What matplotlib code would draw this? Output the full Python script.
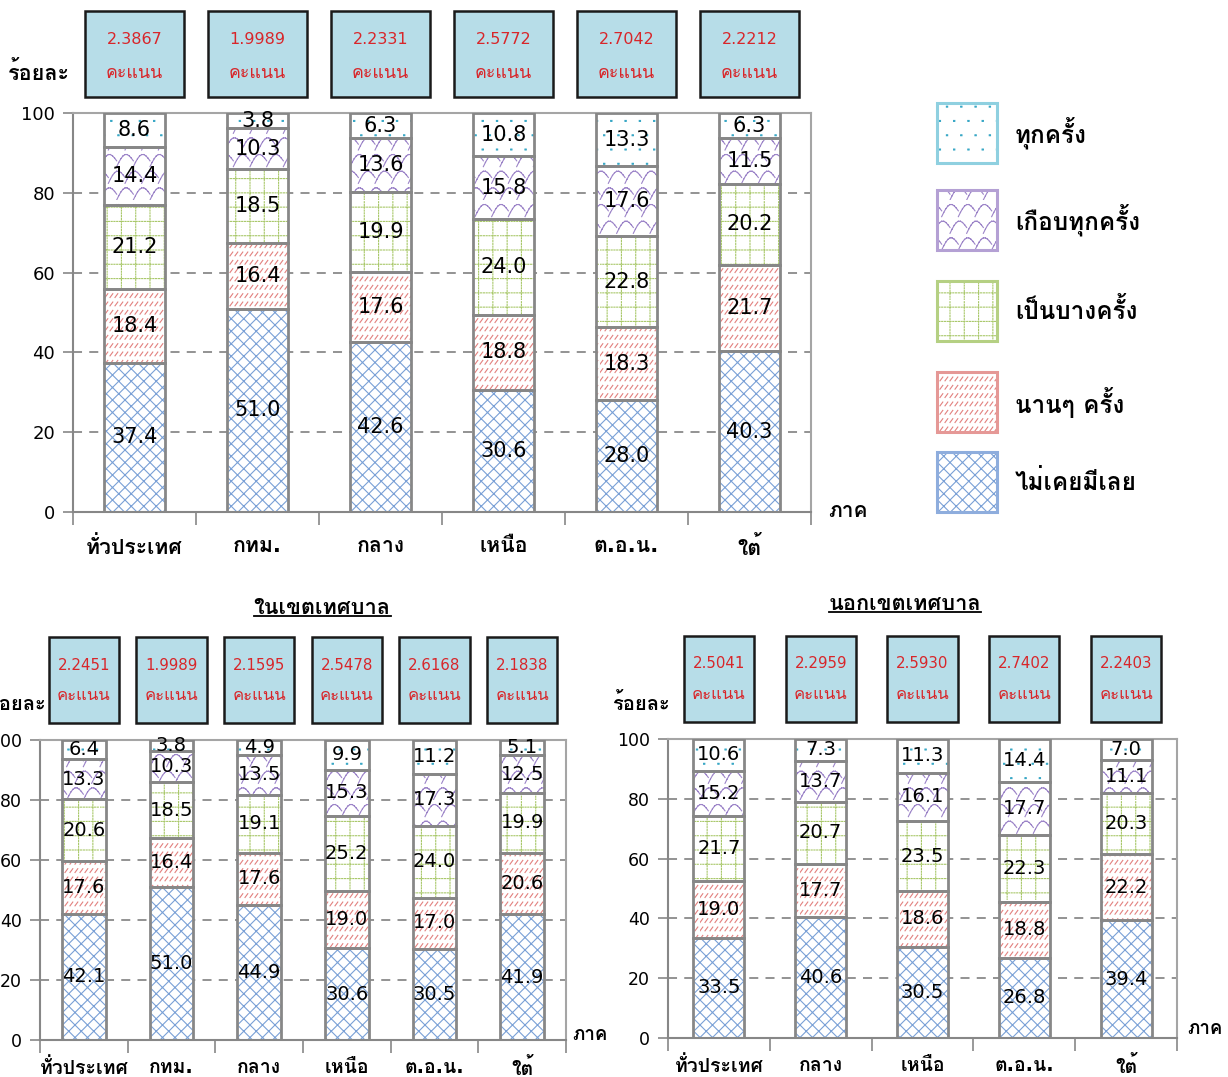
import matplotlib
matplotlib.use("Agg")
import warnings
warnings.filterwarnings("ignore")
import matplotlib.pyplot as plt
from matplotlib.patches import Rectangle
from matplotlib import font_manager
from matplotlib.ft2font import FT2Font
from matplotlib import hatch as mhatch
from matplotlib.path import Path
import matplotlib.transforms as mtrans
import numpy as np

# ---------------- data ----------------
series_names = ["ไม่เคยมีเลย", "นานๆ ครั้ง", "เป็นบางครั้ง", "เกือบทุกครั้ง", "ทุกครั้ง"]

top_categories = ["ทั่วประเทศ", "กทม.", "กลาง", "เหนือ", "ต.อ.น.", "ใต้"]
top_never = [37.4, 51.0, 42.6, 30.6, 28.0, 40.3]
top_seldom = [18.4, 16.4, 17.6, 18.8, 18.3, 21.7]
top_sometimes = [21.2, 18.5, 19.9, 24.0, 22.8, 20.2]
top_almost = [14.4, 10.3, 13.6, 15.8, 17.6, 11.5]
top_every = [8.6, 3.8, 6.3, 10.8, 13.3, 6.3]
top_scores = ["2.3867", "1.9989", "2.2331", "2.5772", "2.7042", "2.2212"]

in_categories = ["ทั่วประเทศ", "กทม.", "กลาง", "เหนือ", "ต.อ.น.", "ใต้"]
in_never = [42.1, 51.0, 44.9, 30.6, 30.5, 41.9]
in_seldom = [17.6, 16.4, 17.6, 19.0, 17.0, 20.6]
in_sometimes = [20.6, 18.5, 19.1, 25.2, 24.0, 19.9]
in_almost = [13.3, 10.3, 13.5, 15.3, 17.3, 12.5]
in_every = [6.4, 3.8, 4.9, 9.9, 11.2, 5.1]
in_scores = ["2.2451", "1.9989", "2.1595", "2.5478", "2.6168", "2.1838"]

out_categories = ["ทั่วประเทศ", "กลาง", "เหนือ", "ต.อ.น.", "ใต้"]
out_never = [33.5, 40.6, 30.5, 26.8, 39.4]
out_seldom = [19.0, 17.7, 18.6, 18.8, 22.2]
out_sometimes = [21.7, 20.7, 23.5, 22.3, 20.3]
out_almost = [15.2, 13.7, 16.1, 17.7, 11.1]
out_every = [10.6, 7.3, 11.3, 14.4, 7.0]
out_scores = ["2.5041", "2.2959", "2.5930", "2.7402", "2.2403"]

yticks = [0, 20, 40, 60, 80, 100]

# ---------------- fonts ----------------
thai_font = None
preferred = ["Tahoma", "Loma", "Garuda", "Noto Sans Thai", "Noto Sans Thai UI", "Leelawadee UI"]
found = []
for f in font_manager.fontManager.ttflist:
    try:
        ft = FT2Font(f.fname)
        if ft.get_char_index(ord("ก")):
            found.append(f.name)
    except Exception:
        pass
for p in preferred:
    if p in found:
        thai_font = p
        break
if thai_font is None and found:
    thai_font = found[0]
families = ["DejaVu Sans"] + ([thai_font] if thai_font else [])
plt.rcParams["font.family"] = families
plt.rcParams["hatch.linewidth"] = 0.8


# ---------------- custom hatch patterns (Excel-like) ----------------
class _SegHatch:
    char = "?"

    def __init__(self, hatch, density):
        self.k = hatch.count(self.char)
        self.segs = self.make() if self.k else []
        self.num_vertices = 2 * len(self.segs)

    def set_vertices_and_codes(self, vertices, codes):
        arr = np.array(self.segs, dtype=float).reshape(-1, 2)
        vertices[:] = arr
        codes[0::2] = Path.MOVETO
        codes[1::2] = Path.LINETO


class CrossHatch(_SegHatch):          # diamonds
    char = "x"

    def make(self):
        n = 8
        segs = []
        for i in range(-n, n + 1):
            x0 = i / n
            segs.append(((x0, 0), (x0 + 1, 1)))
            segs.append(((x0, 1), (x0 + 1, 0)))
        return segs


class DashHatch(_SegHatch):           # rows of short slashes
    char = "/"

    def make(self):
        rows, m = 12, 20
        dx, dy = 0.028, 0.038
        segs = []
        for r in range(-1, rows):
            y = (r + 0.3) / rows
            for c in range(-1, m):
                x = c / m
                segs.append(((x, y), (x + dx, y + dy)))
        return segs


class DotGridHatch(_SegHatch):        # dotted grid
    char = "+"

    def make(self):
        n = 7
        step, ln = 1 / 36, 0.011
        segs = []
        for i in range(n):
            p = (i + 0.5) / n
            for j in range(36):
                q = j * step
                segs.append(((p, q), (p, q + ln)))
                segs.append(((q, p), (q + ln, p)))
        return segs


class DotHatch(_SegHatch):            # sparse staggered dots
    char = "."

    def make(self):
        n = 7
        d = 0.012
        segs = []
        for r in range(n):
            off = 0.5 / n if r % 2 else 0.0
            y = (r + 0.5) / n
            for c in range(n):
                x = (c + 0.25) / n + off
                segs.append(((x, y), (x + d, y)))
                segs.append(((x, y + d * 0.8), (x + d, y + d * 0.8)))
        return segs


class ScaleHatch(_SegHatch):          # fish-scale waves
    char = "o"

    def make(self):
        n = 6
        w = 1 / n
        h = 0.55 / n
        t = np.linspace(0, 1, 9)
        segs = []
        for r in range(-1, n):
            y0 = r / n
            off = 0.5 * w if r % 2 else 0.0
            for c in range(-1, n + 1):
                x0 = c * w + off
                xs = x0 + w * t
                ys = y0 + h * np.sin(np.pi * t) + 0.35 * w * t
                for a in range(len(t) - 1):
                    segs.append(((xs[a], ys[a]), (xs[a + 1], ys[a + 1])))
        return segs


mhatch._hatch_types = [CrossHatch, DashHatch, DotGridHatch, DotHatch, ScaleHatch]

# ---------------- styles ----------------
hatch_colors = ["#7aa0d6", "#e2807e", "#a9c86a", "#9c84c8", "#3aa8c6"]
legend_edge = ["#8eaddd", "#e59896", "#b5d083", "#b4a0d4", "#8fd0e0"]
hatches = ["x", "/", "+", "o", "."]
edge_gray = "#878787"
box_fill = "#b7dde8"
red = "#d8262a"

W, H = 1228, 1077
fig = plt.figure(figsize=(W / 100, H / 100), dpi=100)


def fx(px):
    return px / W


def fy(py):
    return 1 - py / H


def draw_chart(ax_rect, cats, stacks, scores, fs_tick, fs_lab, fs_cat, cat_pad, box_w,
               box_y0, box_y1, fs_box, fs_box_th, score_y, pts_y):
    ax = fig.add_axes(ax_rect)
    n = len(cats)
    x = np.arange(n)
    bottom = np.zeros(n)
    for vals, hc, h in zip(stacks, hatch_colors, hatches):
        vals = np.array(vals)
        ax.bar(x, vals, 0.5, bottom=bottom, color="white", edgecolor=hc, hatch=h,
               linewidth=0, zorder=2)
        bars = ax.bar(x, vals, 0.5, bottom=bottom, fill=False, edgecolor=edge_gray,
                      linewidth=2.0, zorder=3)
        ax.bar_label(bars, labels=[f"{v:.1f}" for v in vals], label_type="center",
                     fontsize=fs_lab, color="black", zorder=4)
        bottom += vals
    ax.set_xlim(-0.5, n - 0.5)
    ax.set_ylim(0, 100)
    ax.set_yticks(yticks)
    ax.tick_params(axis="y", labelsize=fs_tick, length=7, width=1.2, color=edge_gray,
                   direction="out", pad=6)
    ax.set_xticks(x)
    ax.set_xticklabels(cats, fontsize=fs_cat, fontweight="bold")
    ax.tick_params(axis="x", length=0, pad=cat_pad)
    ax.set_xticks(np.arange(n + 1) - 0.5, minor=True)
    ax.tick_params(axis="x", which="minor", length=9, width=1.2, color=edge_gray, direction="out")
    for yv in [20, 40, 60, 80]:
        ax.axhline(yv, color="#8a8a8a", linestyle=(0, (5, 4)), linewidth=1.3, zorder=1)
    for s in ax.spines.values():
        s.set_color(edge_gray)
        s.set_linewidth(1.5)
    ax.spines["top"].set_color("#a5a5a5")
    ax.spines["right"].set_color("#a5a5a5")
    tr = mtrans.blended_transform_factory(ax.transData, fig.transFigure)
    for i, sc in enumerate(scores):
        r = Rectangle((i - box_w / 2, box_y0), box_w, box_y1 - box_y0, transform=tr,
                      facecolor=box_fill, edgecolor="#1a1a1a", linewidth=1.8, clip_on=False)
        fig.add_artist(r)
        fig.text(i, score_y, sc, transform=tr, ha="center", va="center", color=red,
                 fontsize=fs_box)
        fig.text(i, pts_y, "คะแนน", transform=tr, ha="center", va="center", color=red,
                 fontsize=fs_box_th)
    return ax


# top chart
ax1 = draw_chart([fx(73), fy(512), fx(811) - fx(73), fy(113) - fy(512)], top_categories,
                 [top_never, top_seldom, top_sometimes, top_almost, top_every], top_scores,
                 fs_tick=13, fs_lab=15, fs_cat=15.3, cat_pad=17, box_w=0.8, box_y0=fy(97),
                 box_y1=fy(11), fs_box=11.5, fs_box_th=12.8, score_y=fy(40), pts_y=fy(73))
fig.text(fx(39), fy(73), "ร้อยละ", ha="center", va="center", fontsize=15.5, fontweight="bold")
fig.text(fx(848), fy(511), "ภาค", ha="center", va="center", fontsize=15, fontweight="bold")

# bottom-left chart
ax2 = draw_chart([fx(40), fy(1040), fx(566) - fx(40), fy(740) - fy(1040)], in_categories,
                 [in_never, in_seldom, in_sometimes, in_almost, in_every], in_scores,
                 fs_tick=12.5, fs_lab=14, fs_cat=14, cat_pad=13, box_w=0.8, box_y0=fy(723),
                 box_y1=fy(637), fs_box=10.8, fs_box_th=12, score_y=fy(665), pts_y=fy(695))
fig.text(fx(46), fy(704), "ร้อยละ", ha="right", va="center", fontsize=14.5, fontweight="bold")
fig.text(fx(590), fy(1035), "ภาค", ha="center", va="center", fontsize=13.5, fontweight="bold")

# bottom-right chart
ax3 = draw_chart([fx(668), fy(1038), fx(1177) - fx(668), fy(739) - fy(1038)], out_categories,
                 [out_never, out_seldom, out_sometimes, out_almost, out_every], out_scores,
                 fs_tick=12.5, fs_lab=14, fs_cat=14, cat_pad=13, box_w=0.69, box_y0=fy(722),
                 box_y1=fy(636), fs_box=10.8, fs_box_th=12, score_y=fy(664), pts_y=fy(694))
fig.text(fx(641), fy(703), "ร้อยละ", ha="center", va="center", fontsize=14.5, fontweight="bold")
fig.text(fx(1205), fy(1028), "ภาค", ha="center", va="center", fontsize=13.5, fontweight="bold")

# titles (underlined)
titles = [(322, 608, "ในเขตเทศบาล"), (905, 604, "นอกเขตเทศบาล")]
title_objs = []
for px, py, s in titles:
    title_objs.append(fig.text(fx(px), fy(py), s, ha="center", va="center", fontsize=15.7,
                               fontweight="bold"))

# legend
leg_items = [(103, "ทุกครั้ง", 4), (190, "เกือบทุกครั้ง", 3), (281, "เป็นบางครั้ง", 2),
             (372, "นานๆ ครั้ง", 1), (452, "ไม่เคยมีเลย", 0)]
for top_px, lab, idx in leg_items:
    r = Rectangle((fx(937), fy(top_px + 60)), fx(60), 60 / H, transform=fig.transFigure,
                  facecolor="white", edgecolor=hatch_colors[idx], hatch=hatches[idx],
                  linewidth=0)
    fig.add_artist(r)
    r2 = Rectangle((fx(937), fy(top_px + 60)), fx(60), 60 / H, transform=fig.transFigure,
                   fill=False, edgecolor=legend_edge[idx], linewidth=2.2)
    fig.add_artist(r2)
    fig.text(fx(1015), fy(top_px + 30), lab, ha="left", va="center", fontsize=17.5,
             fontweight="bold")

# underline titles
fig.canvas.draw()
renderer = fig.canvas.get_renderer()
inv = fig.transFigure.inverted()
for t in title_objs:
    bb = t.get_window_extent(renderer)
    (x0, y0), (x1, y1) = inv.transform([(bb.x0, bb.y0), (bb.x1, bb.y1)])
    fig.add_artist(plt.Line2D([x0, x1], [y0 + 0.002, y0 + 0.002], transform=fig.transFigure,
                              color="black", linewidth=1.3))

fig.savefig("out.png", dpi=100)
